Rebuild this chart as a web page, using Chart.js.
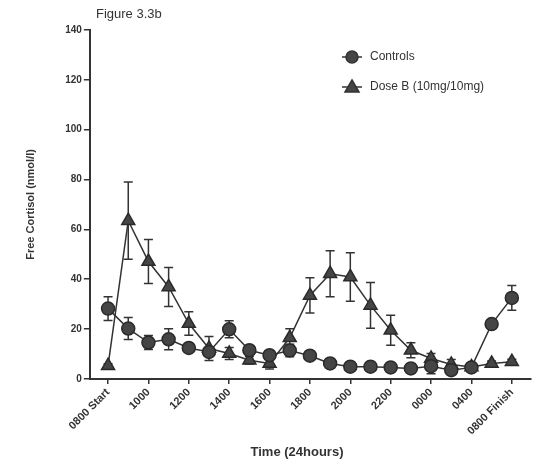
<!DOCTYPE html>
<html>
<head>
<meta charset="utf-8">
<script src="https://cdn.jsdelivr.net/npm/chart.js@4/dist/chart.umd.min.js"></script>
<style>
  html, body { margin: 0; padding: 0; background: #fff; overflow: hidden; }
  #wrap { width: 540px; height: 466px; position: relative; }
</style>
</head>
<body>
<div id="wrap"><canvas id="cortisolChart"></canvas></div>
<script>
// sampling times (x categories), labelled every second one on the axis
const timeLabels = ['0800 Start', '0900', '1000', '1100', '1200', '1300', '1400', '1500', '1600', '1700',
    '1800', '1900', '2000', '2100', '2200', '2300', '0000', '0200', '0400', '0600', '0800 Finish'];
const yTicks = [0, 20, 40, 60, 80, 100, 120, 140];

const controlsMean = [28.2, 20.2, 14.6, 15.9, 12.4, 10.8, 19.9, 11.5, 9.5, 11.4, 9.3, 6.2, 4.9, 4.9, 4.6, 4.2, 5.1, 3.5, 4.6, 22.0, 32.5];
const controlsErr  = [4.8, 4.4, 2.8, 4.2, 1.5, 1.5, 3.4, 1.5, 1.0, 2.5, 1.0, 1.0, 1.0, 1.0, 1.0, 1.0, 3.0, 1.0, 1.0, 1.5, 5.0];
const doseMean = [5.3, 63.5, 47.1, 36.9, 22.2, 12.2, 10.2, 7.5, 6.2, 16.5, 33.5, 42.2, 40.9, 29.5, 19.5, 11.5, 8.2, 5.8, 4.8, 6.2, 6.9];
const doseErr  = [0.8, 15.5, 8.8, 7.8, 4.7, 4.8, 2.4, 1.5, 2.2, 3.6, 7.1, 9.2, 9.7, 9.2, 6.0, 3.0, 2.0, 2.0, 1.0, 1.0, 1.0];

const INK = '#333333';
const FILL = '#454545';
const FONT = '"Liberation Sans", Arial, sans-serif';
const X_TITLE = 'Time (24hours)';

const toPoints = arr => arr.map((v, i) => ({ x: i, y: v }));

// vertical error bars with caps, drawn under the markers
const errorBars = {
    id: 'errorBars',
    beforeDatasetsDraw(chart) {
        const ctx = chart.ctx;
        const y = chart.scales.y;
        ctx.save();
        ctx.strokeStyle = INK;
        ctx.lineWidth = 1.5;
        chart.data.datasets.forEach((ds, i) => {
            const meta = chart.getDatasetMeta(i);
            meta.data.forEach((pt, j) => {
                const m = ds.data[j].y, e = ds.errors[j];
                const top = y.getPixelForValue(m + e), bot = y.getPixelForValue(m - e);
                ctx.beginPath();
                ctx.moveTo(pt.x, top); ctx.lineTo(pt.x, bot);
                ctx.moveTo(pt.x - 4.5, top); ctx.lineTo(pt.x + 4.5, top);
                ctx.moveTo(pt.x - 4.5, bot); ctx.lineTo(pt.x + 4.5, bot);
                ctx.stroke();
            });
        });
        ctx.restore();
    }
};

// figure caption, x title and legend, placed like the original
const annotations = {
    id: 'annotations',
    afterDraw(chart) {
        const ctx = chart.ctx;
        ctx.save();
        ctx.fillStyle = INK;
        ctx.textBaseline = 'middle';
        ctx.font = '13px ' + FONT;
        ctx.fillText('Figure 3.3b', 96, 14);

        ctx.font = 'bold 13px ' + FONT;
        ctx.textAlign = 'center';
        ctx.fillText(X_TITLE, 297, 452);
        ctx.textAlign = 'left';

        ctx.font = '12px ' + FONT;
        chart.data.datasets.forEach((ds, i) => {
            const cy = 57 + i * 30, cx = 352;
            ctx.strokeStyle = INK;
            ctx.lineWidth = 1.5;
            ctx.beginPath();
            ctx.moveTo(cx - 10, cy); ctx.lineTo(cx + 10, cy);
            ctx.stroke();
            ctx.fillStyle = FILL;
            ctx.beginPath();
            if (ds.pointStyle === 'triangle') {
                ctx.moveTo(cx, cy - 7); ctx.lineTo(cx + 7, cy + 5); ctx.lineTo(cx - 7, cy + 5); ctx.closePath();
            } else {
                ctx.arc(cx, cy, 6, 0, Math.PI * 2);
            }
            ctx.fill();
            ctx.stroke();
            ctx.fillStyle = INK;
            ctx.fillText(ds.label, 370, cy);
        });
        ctx.restore();
    }
};

new Chart(document.getElementById('cortisolChart'), {
    type: 'line',
    data: {
        datasets: [{
            label: 'Controls',
            data: toPoints(controlsMean),
            errors: controlsErr,
            borderColor: INK,
            borderWidth: 1.5,
            pointStyle: 'circle',
            pointRadius: 6.5,
            pointBackgroundColor: FILL,
            pointBorderColor: '#2a2a2a',
            pointBorderWidth: 1.5,
            tension: 0
        }, {
            label: 'Dose B (10mg/10mg)',
            data: toPoints(doseMean),
            errors: doseErr,
            borderColor: INK,
            borderWidth: 1.5,
            pointStyle: 'triangle',
            pointRadius: 7.5,
            pointBackgroundColor: FILL,
            pointBorderColor: '#2a2a2a',
            pointBorderWidth: 1.5,
            tension: 0
        }]
    },
    options: {
        responsive: true,
        maintainAspectRatio: false,
        animation: false,
        layout: { padding: { top: 30, right: 3, left: 24, bottom: 4 } },
        plugins: {
            legend: { display: false },
            tooltip: { enabled: false }
        },
        scales: {
            x: {
                type: 'linear',
                min: -0.9,
                max: 20.95,
                afterBuildTicks: axis => {
                    axis.ticks = timeLabels.map((_, i) => ({ value: i })).filter(t => t.value % 2 === 0);
                },
                grid: { display: true, drawOnChartArea: false, drawTicks: true, tickLength: 5, color: INK, lineWidth: 1.5 },
                border: { display: true, color: INK, width: 2 },
                ticks: {
                    autoSkip: false,
                    maxRotation: 45,
                    minRotation: 45,
                    color: INK,
                    padding: 2,
                    font: { family: FONT, size: 11, weight: 'bold' },
                    callback: value => timeLabels[value]
                },
                // reserves the space; the text itself is drawn by the annotations plugin
                title: {
                    display: true,
                    text: X_TITLE,
                    color: 'rgba(0,0,0,0)',
                    padding: { top: 8, bottom: 0 },
                    font: { family: FONT, size: 12, weight: 'bold' }
                }
            },
            y: {
                min: 0,
                max: 140,
                afterBuildTicks: axis => { axis.ticks = yTicks.map(v => ({ value: v })); },
                grid: { display: true, drawOnChartArea: false, drawTicks: true, tickLength: 6, color: INK, lineWidth: 1.5 },
                border: { display: true, color: INK, width: 2 },
                ticks: {
                    color: INK,
                    padding: 2,
                    font: { family: FONT, size: 10, weight: 'bold' }
                },
                title: {
                    display: true,
                    text: 'Free Cortisol (nmol/l)',
                    color: INK,
                    padding: { top: 0, bottom: 26 },
                    font: { family: FONT, size: 11, weight: 'bold' }
                }
            }
        }
    },
    plugins: [errorBars, annotations]
});
</script>
</body>
</html>
